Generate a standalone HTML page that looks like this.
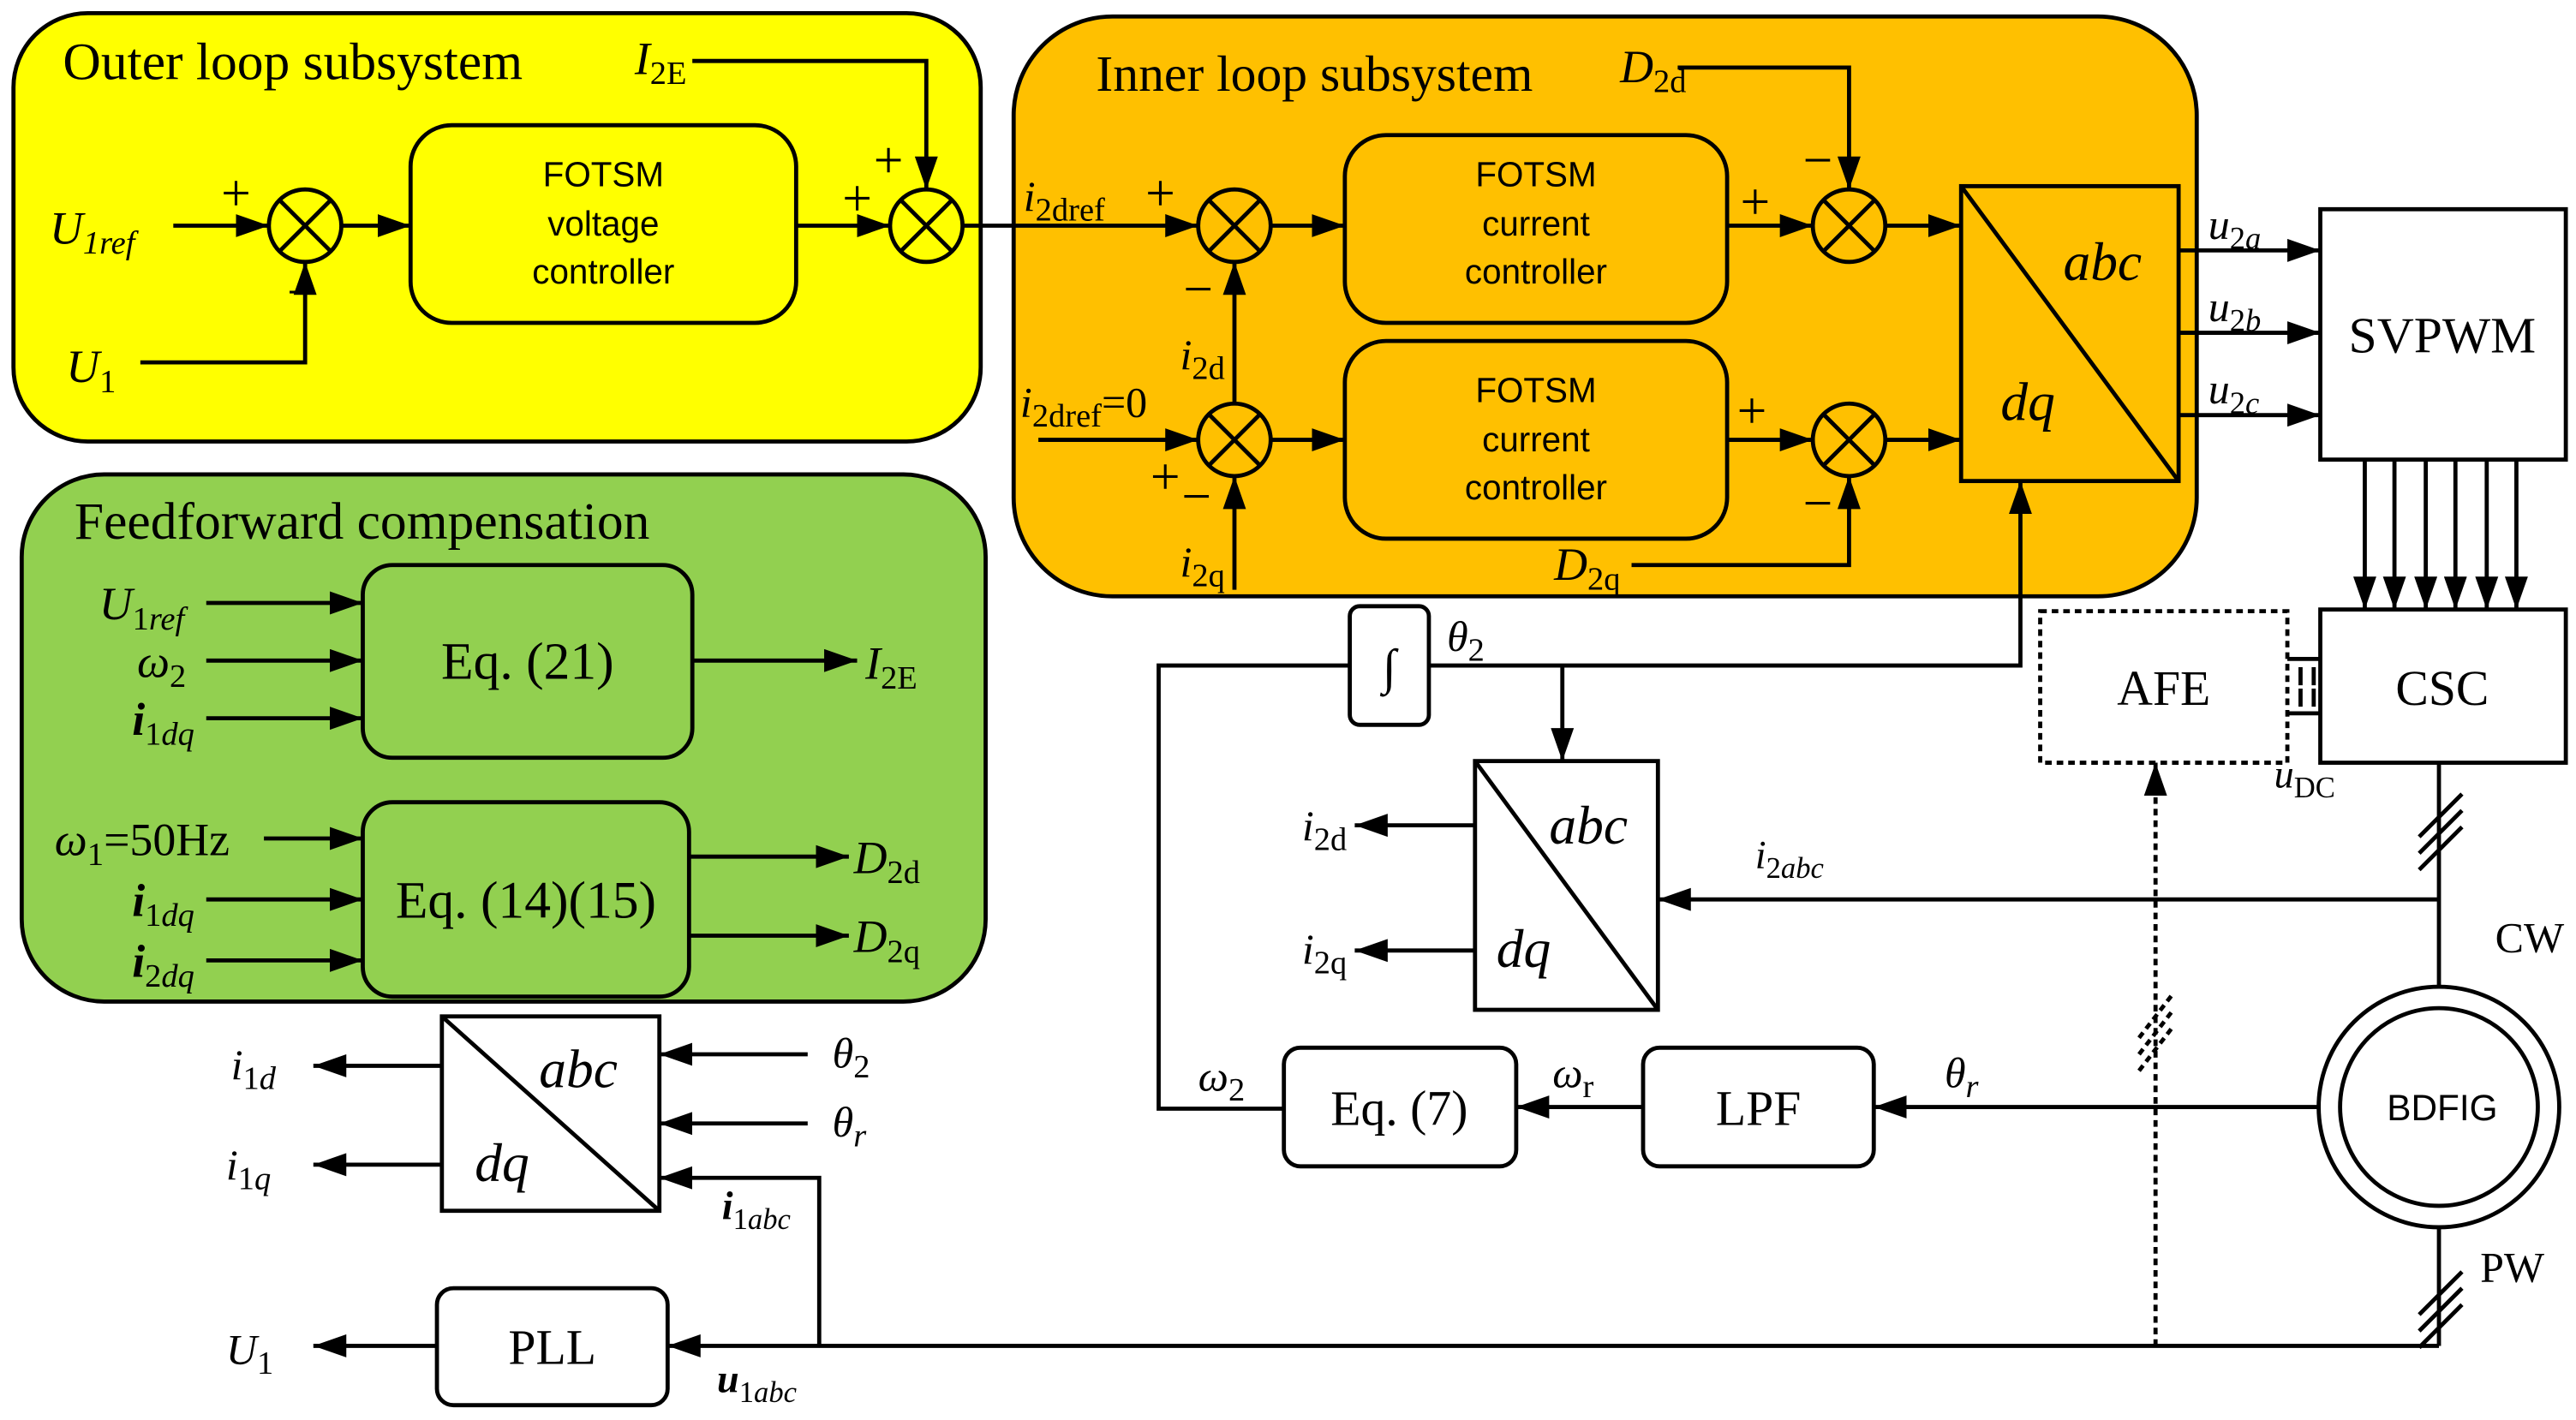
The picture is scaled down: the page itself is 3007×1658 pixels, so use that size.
<!DOCTYPE html>
<html><head><meta charset="utf-8"><style>html,body{margin:0;padding:0;background:#fff}svg{display:block}</style></head><body>
<svg width="3007" height="1658" viewBox="0 0 1563 862" xmlns="http://www.w3.org/2000/svg" font-family="'Liberation Serif',serif">
<defs><marker id="a" markerWidth="20" markerHeight="14" refX="20" refY="7" orient="auto" markerUnits="userSpaceOnUse"><path d="M0,0 L20,7 L0,14 z" fill="#000"/></marker>
<g id="sum"><circle r="22" fill="none" stroke="#000" stroke-width="2.5"/><path d="M-15.5,-15.5 L15.5,15.5 M15.5,-15.5 L-15.5,15.5" stroke="#000" stroke-width="2.5"/></g></defs>
<g stroke="#000" stroke-width="2.5" fill="none">
<rect x="8" y="8" width="587" height="260" rx="45" fill="#ffff00"/>
<rect x="615" y="10" width="718" height="352" rx="60" fill="#ffc000"/>
<rect x="13" y="288" width="585" height="320" rx="50" fill="#92d050"/>
<rect x="249" y="76" width="234" height="120" rx="25"/>
<rect x="816" y="82" width="232" height="114" rx="25"/>
<rect x="816" y="207" width="232" height="120" rx="25"/>
<rect x="1190" y="113" width="132" height="179"/><path d="M1190,113 L1322,292"/>
<rect x="1408" y="127" width="149" height="152" fill="#fff"/>
<rect x="1408" y="370" width="149" height="93" fill="#fff"/>
<rect x="1238" y="371" width="150" height="92" stroke-dasharray="4,3"/>
<rect x="819" y="368" width="48" height="72" rx="6" fill="#fff"/>
<rect x="895" y="462" width="111" height="151"/><path d="M895,462 L1006,613"/>
<rect x="268" y="617" width="132" height="118"/><path d="M268,617 L400,735"/>
<rect x="997" y="636" width="140" height="72" rx="10"/>
<rect x="779" y="636" width="141" height="72" rx="10"/>
<rect x="265" y="782" width="140" height="71" rx="10"/>
<rect x="220" y="343" width="200" height="117" rx="18"/>
<rect x="220" y="487" width="198" height="118" rx="18"/>
<circle cx="1480" cy="672" r="73"/><circle cx="1480" cy="672" r="60"/>
</g>
<use href="#sum" x="185" y="137"/><use href="#sum" x="562" y="137"/>
<use href="#sum" x="749" y="137"/><use href="#sum" x="749" y="267"/>
<use href="#sum" x="1122" y="137"/><use href="#sum" x="1122" y="267"/>
<g stroke="#000" stroke-width="2.5" fill="none" marker-end="url(#a)">
<path d="M105,137 H163"/><path d="M85,220 H185 V159"/><path d="M207,137 H249"/><path d="M483,137 H540"/>
<path d="M420,37 H562 V115"/><path d="M584,137 H727"/>
<path d="M630,267 H727"/><path d="M749,245 V159"/><path d="M749,358 V289"/>
<path d="M771,137 H816"/><path d="M771,267 H816"/><path d="M1048,137 H1100"/><path d="M1048,267 H1100"/>
<path d="M1144,137 H1190"/><path d="M1144,267 H1190"/>
<path d="M1018,41 H1122 V115"/><path d="M990,343 H1122 V289"/>
<path d="M1322,152 H1408"/><path d="M1322,202 H1408"/><path d="M1322,252 H1408"/>
<path d="M1435,279 V370"/><path d="M1453,279 V370"/><path d="M1472,279 V370"/><path d="M1490,279 V370"/><path d="M1509,279 V370"/><path d="M1527,279 V370"/>
<path d="M867,404 H1226 V292"/><path d="M948,404 V462"/>
<path d="M895,501 H822"/><path d="M895,577 H822"/>
<path d="M1480,546 H1006"/>
<path d="M1407,672 H1137"/><path d="M997,672 H920"/>
<path d="M1480,817 H405"/><path d="M265,817 H190"/>
<path d="M497,817 V715 H400"/>
<path d="M490,640 H400"/><path d="M490,682 H400"/>
<path d="M268,647 H190"/><path d="M268,707 H190"/>
<path d="M125,366 H220"/><path d="M125,401 H220"/><path d="M125,436 H220"/><path d="M420,401 H520"/>
<path d="M160,509 H220"/><path d="M125,546 H220"/><path d="M125,583 H220"/>
<path d="M418,520 H515"/><path d="M418,568 H515"/>
<path d="M1308,817 V463" stroke-dasharray="4,3"/>
</g>
<g stroke="#000" stroke-width="2.5" fill="none">
<path d="M779,673 H703 V404 H819"/>
<path d="M1480,463 V599"/><path d="M1480,745 V817"/>
<path d="M1388,400 H1408 M1388,433 H1408 M1396,405 V416 M1404,405 V416 M1396,418 V429 M1404,418 V429"/>
<path d="M1468,508 L1494,482 M1468,518 L1494,492 M1468,528 L1494,502"/>
<path d="M1468,798 L1494,772 M1468,808 L1494,782 M1468,818 L1494,792"/>
<path d="M1298,630 L1318,604 M1298,640 L1318,614 M1298,650 L1318,624" stroke-dasharray="4,3"/>
</g>
<g font-size="28" fill="#000">
<text x="38" y="48" font-size="32">Outer loop subsystem</text>
<text x="665" y="55" font-size="31">Inner loop subsystem</text>
<text x="45" y="327" font-size="32">Feedforward compensation</text>
<g font-family="'Liberation Sans',sans-serif" font-size="21" text-anchor="middle">
<text x="366" y="113">FOTSM</text><text x="366" y="143">voltage</text><text x="366" y="172">controller</text>
<text x="932" y="113">FOTSM</text><text x="932" y="143">current</text><text x="932" y="172">controller</text>
<text x="932" y="244">FOTSM</text><text x="932" y="274">current</text><text x="932" y="303">controller</text>
<text x="1482" y="680" font-size="22">BDFIG</text>
</g>
<g text-anchor="middle" font-size="30">
<text x="1482" y="214" font-size="31">SVPWM</text><text x="1482" y="428">CSC</text><text x="1313" y="428">AFE</text>
<text x="843" y="415">∫</text><text x="1067" y="683">LPF</text><text x="849" y="683">Eq. (7)</text><text x="335" y="828">PLL</text>
<text x="320" y="412" font-size="32">Eq. (21)</text><text x="319" y="557" font-size="32">Eq. (14)(15)</text>
</g>
<g font-style="italic" font-size="33"><text x="1252" y="170">abc</text><text x="1214" y="255">dq</text>
<text x="940" y="512">abc</text><text x="908" y="587">dq</text><text x="327" y="660">abc</text><text x="288" y="717">dq</text></g>
<g font-size="32">
<text x="134" y="128">+</text><text x="174" y="188">−</text><text x="511" y="131">+</text><text x="530" y="108">+</text>
<text x="695" y="128">+</text><text x="718" y="186">−</text><text x="698" y="300">+</text><text x="717" y="312">−</text>
<text x="1056" y="133">+</text><text x="1054" y="260">+</text><text x="1094" y="108">−</text><text x="1094" y="316">−</text>
</g>
<text x="30" y="148" font-style="italic">U<tspan font-size="20" dy="6">1<tspan font-style="italic">ref</tspan></tspan></text>
<text x="40" y="232" font-style="italic">U<tspan font-size="20" dy="6" font-style="normal">1</tspan></text>
<text x="385" y="45" font-style="italic">I<tspan font-size="20" dy="6" font-style="normal">2E</tspan></text>
<text x="621" y="128" font-size="26" font-style="italic">i<tspan font-size="20" dy="6" font-style="normal">2dref</tspan></text>
<text x="619" y="253" font-size="26" font-style="italic">i<tspan font-size="20" dy="6" font-style="normal">2dref</tspan><tspan dy="-6" font-style="normal">=0</tspan></text>
<text x="716" y="224" font-size="26" font-style="italic">i<tspan font-size="20" dy="6" font-style="normal">2d</tspan></text>
<text x="716" y="350" font-size="26" font-style="italic">i<tspan font-size="20" dy="6" font-style="normal">2q</tspan></text>
<text x="983" y="50" font-style="italic">D<tspan font-size="20" dy="6" font-style="normal">2d</tspan></text>
<text x="943" y="352" font-style="italic">D<tspan font-size="20" dy="6" font-style="normal">2q</tspan></text>
<text x="1340" y="145" font-size="26" font-style="italic">u<tspan font-size="19" dy="6"><tspan font-style="normal">2</tspan>a</tspan></text>
<text x="1340" y="195" font-size="26" font-style="italic">u<tspan font-size="19" dy="6"><tspan font-style="normal">2</tspan>b</tspan></text>
<text x="1340" y="245" font-size="26" font-style="italic">u<tspan font-size="19" dy="6"><tspan font-style="normal">2</tspan>c</tspan></text>
<text x="878" y="395" font-size="26" font-style="italic">θ<tspan font-size="20" dy="6" font-style="normal">2</tspan></text>
<text x="1380" y="478" font-size="24" font-style="italic">u<tspan font-size="18" dy="6" font-style="normal">DC</tspan></text>
<text x="1065" y="527" font-size="24" font-style="italic">i<tspan font-size="18" dy="6"><tspan font-style="normal">2</tspan>abc</tspan></text>
<text x="790" y="510" font-size="26" font-style="italic">i<tspan font-size="20" dy="6" font-style="normal">2d</tspan></text>
<text x="790" y="585" font-size="26" font-style="italic">i<tspan font-size="20" dy="6" font-style="normal">2q</tspan></text>
<text x="1556" y="578" font-size="26" text-anchor="end">CW</text><text x="1505" y="778" font-size="26">PW</text>
<text x="1180" y="660" font-size="26" font-style="italic">θ<tspan font-size="20" dy="6">r</tspan></text>
<text x="942" y="660" font-size="26" font-style="italic">ω<tspan font-size="20" dy="6" font-style="normal">r</tspan></text>
<text x="727" y="662" font-size="26" font-style="italic">ω<tspan font-size="20" dy="6" font-style="normal">2</tspan></text>
<text x="435" y="845" font-size="24" font-style="italic" font-weight="bold">u<tspan font-size="18" dy="6" font-weight="normal"><tspan font-style="normal">1</tspan>abc</tspan></text>
<text x="137" y="828" font-size="26" font-style="italic">U<tspan font-size="20" dy="6" font-style="normal">1</tspan></text>
<text x="438" y="740" font-size="24" font-style="italic" font-weight="bold">i<tspan font-size="18" dy="6" font-weight="normal"><tspan font-style="normal">1</tspan>abc</tspan></text>
<text x="505" y="648" font-size="26" font-style="italic">θ<tspan font-size="20" dy="6" font-style="normal">2</tspan></text>
<text x="505" y="690" font-size="26" font-style="italic">θ<tspan font-size="20" dy="6">r</tspan></text>
<text x="140" y="655" font-size="26" font-style="italic">i<tspan font-size="20" dy="6"><tspan font-style="normal">1</tspan>d</tspan></text>
<text x="137" y="716" font-size="26" font-style="italic">i<tspan font-size="20" dy="6"><tspan font-style="normal">1</tspan>q</tspan></text>
<text x="60" y="376" font-size="28" font-style="italic">U<tspan font-size="20" dy="6"><tspan font-style="normal">1</tspan>ref</tspan></text>
<text x="83" y="411" font-size="28" font-style="italic">ω<tspan font-size="20" dy="6" font-style="normal">2</tspan></text>
<text x="80" y="446" font-size="28" font-style="italic" font-weight="bold">i<tspan font-size="20" dy="6" font-weight="normal"><tspan font-style="normal">1</tspan>dq</tspan></text>
<text x="525" y="412" font-size="28" font-style="italic">I<tspan font-size="20" dy="6" font-style="normal">2E</tspan></text>
<text x="33" y="519" font-size="28" font-style="italic">ω<tspan font-size="20" dy="6" font-style="normal">1</tspan><tspan dy="-6" font-style="normal">=50Hz</tspan></text>
<text x="80" y="556" font-size="28" font-style="italic" font-weight="bold">i<tspan font-size="20" dy="6" font-weight="normal"><tspan font-style="normal">1</tspan>dq</tspan></text>
<text x="80" y="593" font-size="28" font-style="italic" font-weight="bold">i<tspan font-size="20" dy="6" font-weight="normal"><tspan font-style="normal">2</tspan>dq</tspan></text>
<text x="518" y="530" font-size="28" font-style="italic">D<tspan font-size="20" dy="6" font-style="normal">2d</tspan></text>
<text x="518" y="578" font-size="28" font-style="italic">D<tspan font-size="20" dy="6" font-style="normal">2q</tspan></text>
</g>
</svg>
</body></html>
